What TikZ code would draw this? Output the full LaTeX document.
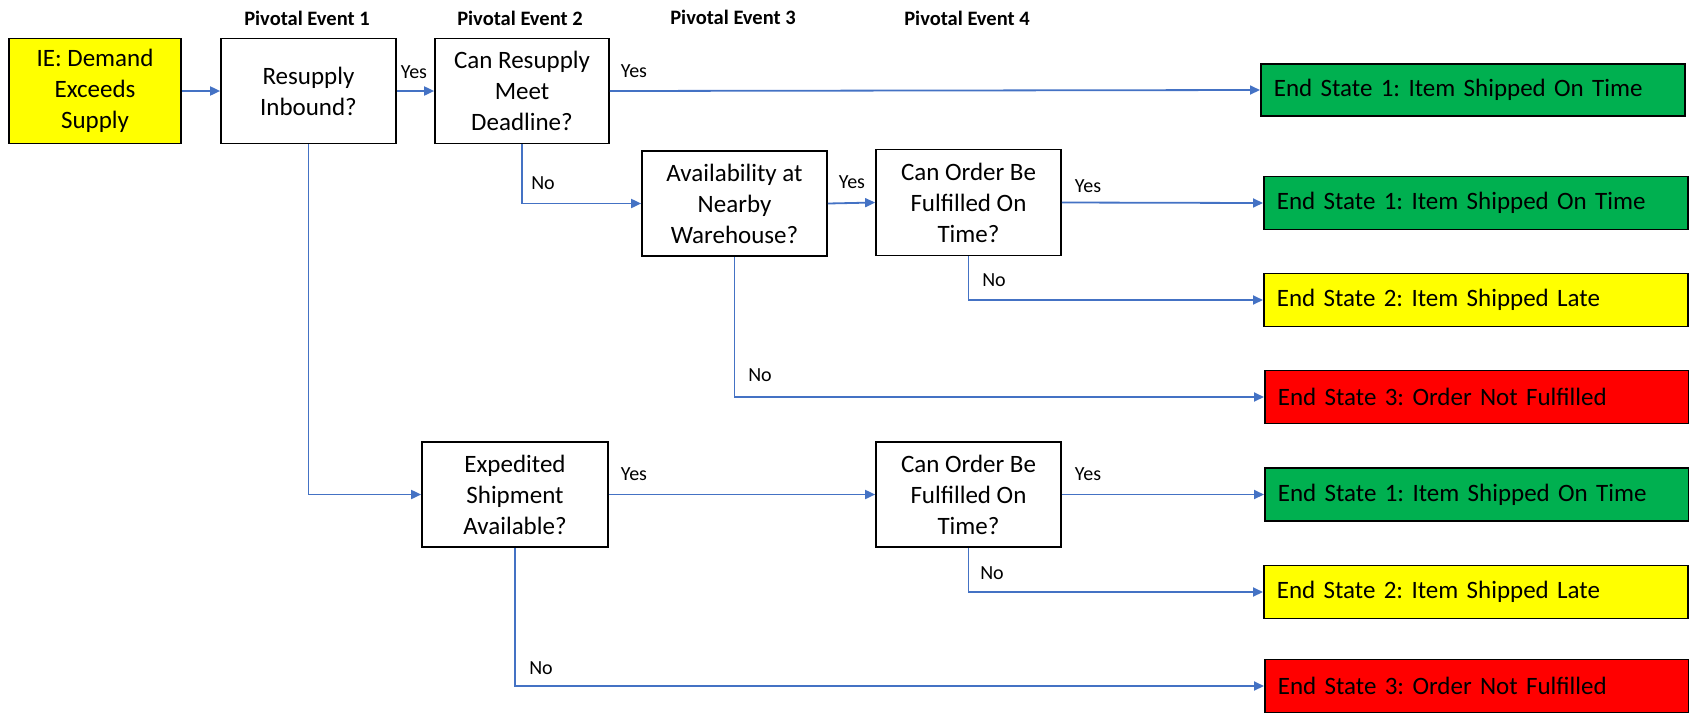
\documentclass[tikz,border=0pt]{standalone}
\usepackage{fontspec}
\setmainfont{Carlito}
\frenchspacing
\usetikzlibrary{arrows.meta}
\definecolor{linkblue}{HTML}{4472C4}
\definecolor{okgreen}{HTML}{00B050}
\definecolor{lateyellow}{HTML}{FFFF00}
\definecolor{failred}{HTML}{FF0000}
\tikzset{
  qbox/.style={draw=black, line width=1.7pt, align=center, inner sep=0pt,
    font=\fontsize{25}{31}\selectfont},
  endbox/.style={draw=black, line width=1.7pt, anchor=west, inner xsep=13pt,
    inner ysep=0pt, text width=398pt, minimum height=53pt, align=left,
    font=\fontsize{25}{31}\selectfont},
  conn/.style={draw=linkblue, line width=1.8pt, -{Triangle[length=10pt,width=9pt]}},
  lbl/.style={inner sep=0pt, font=\fontsize{20}{24}\selectfont},
  phase/.style={inner sep=0pt, font=\bfseries\fontsize{20.5}{24}\selectfont}
}
\begin{document}
\begin{tikzpicture}[x=1pt, y=-1pt]
\useasboundingbox (0,0) rectangle (1689,713);

% column headings
\node[phase] (pe1) at (307,18) {Pivotal Event 1};
\node[phase] (pe2) at (520,18) {Pivotal Event 2};
\node[phase] (pe3) at (733,17) {Pivotal Event 3};
\node[phase] (pe4) at (967,18) {Pivotal Event 4};

% initiating event and pivotal questions
\node[qbox, fill=lateyellow, minimum width=172pt, minimum height=105pt] (ie) at (95,91) {IE: Demand\\Exceeds\\Supply};
\node[qbox, minimum width=175pt, minimum height=105pt] (rs) at (308.5,91) {Resupply\\Inbound?};
\node[qbox, minimum width=174pt, minimum height=105pt] (cr) at (522,91) {Can Resupply\\Meet\\Deadline?};
\node[qbox, minimum width=185pt, minimum height=105pt] (av) at (734.5,203.5) {Availability at\\Nearby\\Warehouse?};
\node[qbox, minimum width=185pt, minimum height=106pt] (co1) at (968.5,202.5) {Can Order Be\\Fulfilled On\\Time?};
\node[qbox, minimum width=186pt, minimum height=105pt] (ex) at (515,494.5) {Expedited\\Shipment\\Available?};
\node[qbox, minimum width=185pt, minimum height=105pt] (co2) at (968.5,494.5) {Can Order Be\\Fulfilled On\\Time?};

% end states
\node[endbox, fill=okgreen, minimum height=52pt] (es1) at (1260,90) {End State 1: Item Shipped On Time};
\node[endbox, fill=okgreen] (es2) at (1263,203) {End State 1: Item Shipped On Time};
\node[endbox, fill=lateyellow] (es3) at (1263,300) {End State 2: Item Shipped Late};
\node[endbox, fill=failred] (es4) at (1264,397) {End State 3: Order Not Fulfilled};
\node[endbox, fill=okgreen] (es5) at (1264,494.5) {End State 1: Item Shipped On Time};
\node[endbox, fill=lateyellow] (es6) at (1263,592) {End State 2: Item Shipped Late};
\node[endbox, fill=failred] (es7) at (1264,686) {End State 3: Order Not Fulfilled};

% branches
\draw[conn] (ie.east) -- (rs.west);
\draw[conn] (rs.east) -- (cr.west);
\draw[conn] (cr.east) -- (es1.west);
\draw[conn] (cr.south) |- (av.west);
\draw[conn] (av.east) -- (co1.west);
\draw[conn] (co1.east) -- (es2.west);
\draw[conn] (co1.south) |- (es3.west);
\draw[conn] (av.south) |- (es4.west);
\draw[conn] (rs.south) |- (ex.west);
\draw[conn] (ex.east) -- (co2.west);
\draw[conn] (co2.east) -- (es5.west);
\draw[conn] (co2.south) |- (es6.west);
\draw[conn] (ex.south) |- (es7.west);

% branch labels
\node[lbl] (y1) at (414,72) {Yes};
\node[lbl] (y2) at (634,71) {Yes};
\node[lbl] (n1) at (543,183) {No};
\node[lbl] (y3) at (852,182) {Yes};
\node[lbl] (y4) at (1088,186) {Yes};
\node[lbl] (n2) at (994,280) {No};
\node[lbl] (n3) at (760,375) {No};
\node[lbl] (y5) at (634,474) {Yes};
\node[lbl] (y6) at (1088,474) {Yes};
\node[lbl] (n4) at (992,573) {No};
\node[lbl] (n5) at (541,668) {No};
\end{tikzpicture}
\end{document}
